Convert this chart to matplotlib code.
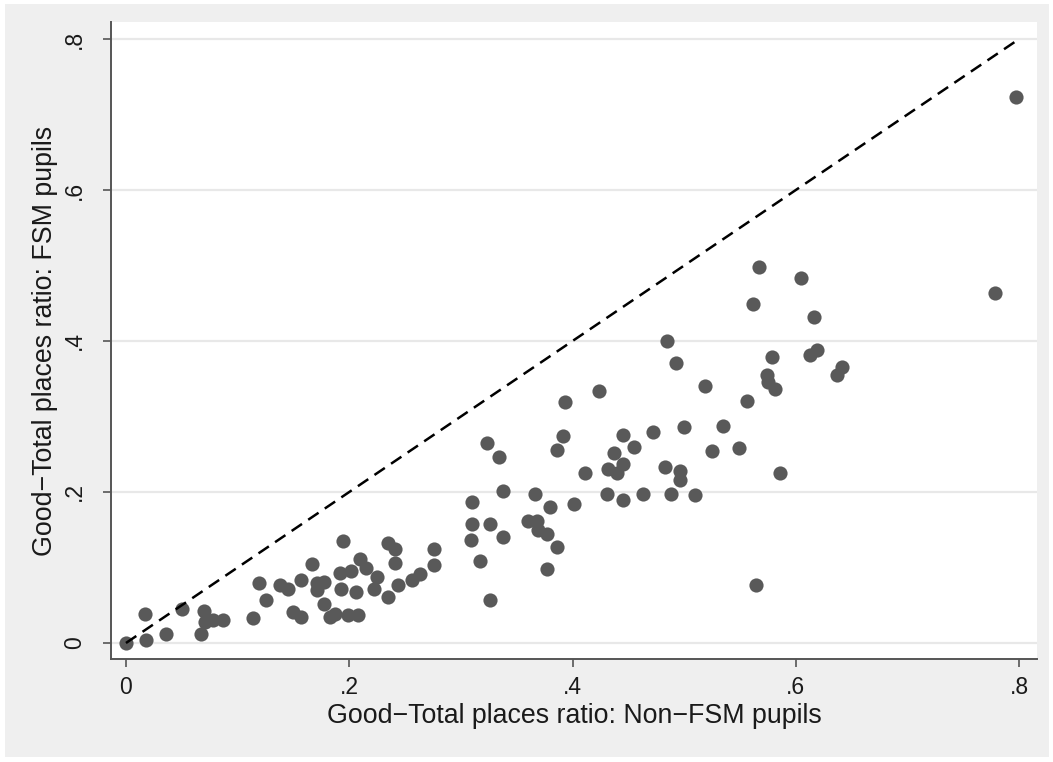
import matplotlib
matplotlib.use("Agg")
import matplotlib.pyplot as plt
from matplotlib.patches import Rectangle
from matplotlib import font_manager

# ---- data ----
non_fsm = [0.000, 0.018, 0.017, 0.036, 0.050, 0.067, 0.070, 0.071, 0.078, 0.087,
           0.114, 0.119, 0.125, 0.138, 0.145, 0.150, 0.157, 0.157, 0.167, 0.171,
           0.177, 0.171, 0.177, 0.183, 0.187, 0.194, 0.192, 0.202, 0.193, 0.206,
           0.199, 0.208, 0.210, 0.215, 0.225, 0.222, 0.235, 0.241, 0.241, 0.235,
           0.244, 0.256, 0.263, 0.276, 0.276, 0.310, 0.310, 0.309, 0.317, 0.326,
           0.326, 0.323, 0.334, 0.338, 0.338, 0.360, 0.366, 0.368, 0.369, 0.377,
           0.380, 0.386, 0.377, 0.386, 0.391, 0.393, 0.401, 0.411, 0.424, 0.431,
           0.432, 0.437, 0.440, 0.445, 0.445, 0.445, 0.455, 0.463, 0.472, 0.483,
           0.485, 0.488, 0.493, 0.496, 0.496, 0.500, 0.510, 0.519, 0.525, 0.535,
           0.549, 0.556, 0.562, 0.567, 0.564, 0.574, 0.575, 0.579, 0.581, 0.586,
           0.605, 0.613, 0.616, 0.619, 0.637, 0.641, 0.778, 0.797]
fsm = [0.000, 0.004, 0.038, 0.012, 0.045, 0.012, 0.042, 0.028, 0.030, 0.031,
       0.033, 0.080, 0.057, 0.077, 0.071, 0.041, 0.083, 0.035, 0.104, 0.079,
       0.081, 0.070, 0.052, 0.035, 0.038, 0.135, 0.093, 0.096, 0.071, 0.068,
       0.037, 0.037, 0.111, 0.099, 0.087, 0.071, 0.133, 0.124, 0.106, 0.061,
       0.077, 0.083, 0.091, 0.124, 0.103, 0.187, 0.158, 0.136, 0.109, 0.158,
       0.057, 0.265, 0.246, 0.201, 0.140, 0.162, 0.198, 0.161, 0.150, 0.145,
       0.180, 0.127, 0.098, 0.256, 0.274, 0.319, 0.184, 0.225, 0.334, 0.197,
       0.231, 0.251, 0.225, 0.237, 0.276, 0.189, 0.259, 0.197, 0.279, 0.233,
       0.400, 0.197, 0.371, 0.228, 0.216, 0.286, 0.196, 0.341, 0.254, 0.288,
       0.258, 0.321, 0.449, 0.498, 0.077, 0.355, 0.346, 0.379, 0.336, 0.225,
       0.484, 0.381, 0.432, 0.388, 0.355, 0.366, 0.463, 0.723]

line_x = [0.0, 0.8]
line_y = [0.0, 0.8]

tick_vals = [0.0, 0.2, 0.4, 0.6, 0.8]
tick_labels = ["0", ".2", ".4", ".6", ".8"]

x_title = "Good\u2212Total places ratio: Non\u2212FSM pupils"
y_title = "Good\u2212Total places ratio: FSM pupils"

# ---- font ----
avail = {f.name for f in font_manager.fontManager.ttflist}
fam = [f for f in ["Liberation Sans Narrow", "Liberation Sans", "DejaVu Sans"] if f in avail]
plt.rcParams["font.family"] = fam

W, H = 1053, 762
fig = plt.figure(figsize=(W / 100, H / 100), dpi=100, facecolor="white")

# outer grey graph region
bg = Rectangle((5 / W, 1 - 757 / H), (1049 - 5) / W, (757 - 4) / H,
               transform=fig.transFigure, facecolor="#efefef",
               edgecolor="none", zorder=-10)
fig.patches.append(bg)

ax_l, ax_r, ax_t, ax_b = 111, 1037, 22, 659
ax = fig.add_axes([ax_l / W, 1 - ax_b / H, (ax_r - ax_l) / W, (ax_b - ax_t) / H])
ax.set_zorder(1)
ax.set_facecolor("white")
ax.set_xlim(-0.0134, 0.816)
ax.set_ylim(-0.0212, 0.8225)

for s in ["top", "right"]:
    ax.spines[s].set_visible(False)
for s in ["left", "bottom"]:
    ax.spines[s].set_color("#555555")
    ax.spines[s].set_linewidth(1.4)

ax.set_yticks(tick_vals)
ax.set_yticklabels(tick_labels, rotation=90, va="center")
ax.set_xticks(tick_vals)
ax.set_xticklabels(tick_labels)
ax.tick_params(axis="both", direction="out", length=6, width=1.2, color="#555555",
               labelsize=16.5, labelcolor="#1a1a1a")
ax.tick_params(axis="x", pad=6)
ax.tick_params(axis="y", pad=12)

ax.grid(axis="y", color="#e8e8e8", linewidth=1.6)
ax.set_axisbelow(True)

ax.plot(non_fsm, fsm, linestyle="none", marker="o", markersize=10.2,
        markerfacecolor="#595959", markeredgecolor="#595959", markeredgewidth=0,
        zorder=3)
ax.plot(line_x, line_y, color="black", linestyle=(0, (5, 3)), linewidth=1.8, zorder=4)

# axis titles placed at the reference positions
fig.text((ax_l + ax_r) / 2 / W, 1 - 716 / H, x_title, fontsize=19.3, color="#1a1a1a",
         ha="center", va="center")
fig.text(45 / W, 1 - ((ax_t + ax_b) / 2) / H, y_title, fontsize=19.3, color="#1a1a1a",
         ha="center", va="center", rotation=90)

fig.savefig("out.png", dpi=100, facecolor=fig.get_facecolor())
